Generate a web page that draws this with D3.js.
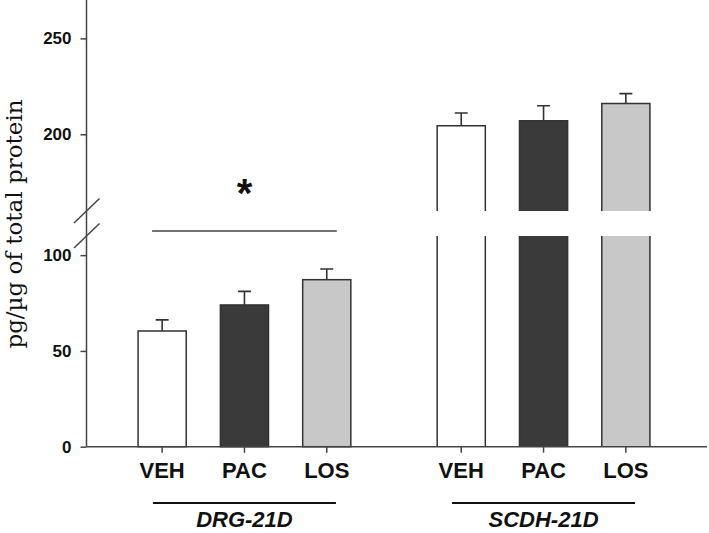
<!DOCTYPE html>
<html>
<head>
<meta charset="utf-8">
<script src="https://cdn.jsdelivr.net/npm/d3@7"></script>
<style>
  html, body { margin: 0; padding: 0; background: #fff; }
  svg { display: block; }
</style>
</head>
<body>
<svg id="chart" width="709" height="533"></svg>
<script>
// ---- data ----
const groups = ["DRG-21D", "SCDH-21D"];
const conditions = ["VEH", "PAC", "LOS"];
const drgValues = [60.4, 74.0, 87.2];
const drgErrors = [5.8, 7.1, 5.6];
const scdhValues = [204.5, 207.1, 216.0];
const scdhErrors = [6.6, 7.8, 5.2];
const lowTicks = [0, 50, 100];
const highTicks = [200, 250];
const barColors = ["#ffffff", "#3a3a3a", "#c8c8c8"];

const data = [];
conditions.forEach((c, i) => data.push({group: groups[0], cond: c, value: drgValues[i], err: drgErrors[i], color: barColors[i]}));
conditions.forEach((c, i) => data.push({group: groups[1], cond: c, value: scdhValues[i], err: scdhErrors[i], color: barColors[i]}));

const svg = d3.select("#chart");
const axisColor = "#444";
const strokeColor = "#333";

// ---- scales (broken y axis) ----
const lowMax = 110, highMin = 160, highMax = 270;
const yBase = 446.7;
const yLow = d3.scaleLinear().domain([0, lowMax]).range([yBase, 236]);
const yHigh = d3.scaleLinear().domain([highMin, highMax]).range([211, 0]);
const y = v => v <= lowMax ? yLow(v) : yHigh(v);

const x0 = d3.scaleBand().domain(groups).range([121, 667]).paddingInner(0.1745).paddingOuter(0);
const x1 = d3.scaleBand().domain(conditions).range([0, x0.bandwidth()]).paddingInner(0.415).paddingOuter(0.2075);

const axisX = 86.5;

// ---- bars ----
const bars = svg.append("g");
data.forEach(d => {
  const xl = x0(d.group) + x1(d.cond);
  const w = x1.bandwidth();
  const g = bars.append("g");
  if (d.value <= lowMax) {
    g.append("rect").attr("x", xl).attr("y", y(d.value)).attr("width", w).attr("height", yBase - y(d.value))
      .attr("fill", d.color).attr("stroke", strokeColor).attr("stroke-width", 1.5);
  } else {
    g.append("rect").attr("x", xl).attr("y", yLow(lowMax)).attr("width", w).attr("height", yBase - yLow(lowMax))
      .attr("fill", d.color);
    g.append("path").attr("d", `M${xl},${yLow(lowMax)}V${yBase}M${xl + w},${yLow(lowMax)}V${yBase}`)
      .attr("stroke", strokeColor).attr("stroke-width", 1.5).attr("fill", "none");
    g.append("rect").attr("x", xl).attr("y", yHigh(d.value)).attr("width", w).attr("height", yHigh(highMin) - yHigh(d.value))
      .attr("fill", d.color);
    g.append("path").attr("d", `M${xl},${yHigh(highMin)}V${yHigh(d.value)}H${xl + w}V${yHigh(highMin)}`)
      .attr("stroke", strokeColor).attr("stroke-width", 1.5).attr("fill", "none");
  }
  const cx = xl + w / 2;
  const top = y(d.value + d.err);
  g.append("path").attr("d", `M${cx},${y(d.value)}V${top}M${cx - 6.5},${top}H${cx + 6.5}`)
    .attr("stroke", strokeColor).attr("stroke-width", 1.6).attr("fill", "none");
});

// ---- y axis ----
const yAxisLow = svg.append("g").attr("transform", `translate(${axisX},0)`)
  .call(d3.axisLeft(yLow).tickValues(lowTicks).tickSize(6).tickPadding(9));
const yAxisHigh = svg.append("g").attr("transform", `translate(${axisX},0)`)
  .call(d3.axisLeft(yHigh).tickValues(highTicks).tickSize(6).tickPadding(9));
[yAxisLow, yAxisHigh].forEach(a => {
  a.select(".domain").remove();
  a.selectAll("line").attr("stroke", axisColor).attr("stroke-width", 1.5);
  a.selectAll("text").attr("font-family", "Liberation Sans, Arial, sans-serif")
    .attr("font-weight", "bold").attr("font-size", 17).attr("fill", "#111");
});
svg.append("line").attr("x1", axisX).attr("x2", axisX).attr("y1", 0).attr("y2", yBase)
  .attr("stroke", axisColor).attr("stroke-width", 1.5);

// break marks
const bm = svg.append("g").attr("stroke", axisColor).attr("stroke-width", 1.5);
bm.append("line").attr("x1", 74).attr("y1", 223).attr("x2", 99.5).attr("y2", 198.5);
bm.append("line").attr("x1", 74).attr("y1", 248).attr("x2", 99.5).attr("y2", 223.5);

// ---- x axis ----
svg.append("line").attr("x1", axisX).attr("x2", 707).attr("y1", yBase).attr("y2", yBase)
  .attr("stroke", axisColor).attr("stroke-width", 1.5);
groups.forEach(gname => {
  const ax = svg.append("g").attr("transform", `translate(${x0(gname)},${yBase})`)
    .call(d3.axisBottom(x1).tickSize(6).tickPadding(10));
  ax.select(".domain").remove();
  ax.selectAll("line").attr("stroke", axisColor).attr("stroke-width", 1.5);
  ax.selectAll("text").attr("font-family", "Liberation Sans, Arial, sans-serif")
    .attr("font-weight", "bold").attr("font-size", 22).attr("fill", "#111");

  const cx = x0(gname) + x0.bandwidth() / 2;
  svg.append("line").attr("x1", cx - 91.5).attr("x2", cx + 91.5).attr("y1", 503).attr("y2", 503)
    .attr("stroke", "#111").attr("stroke-width", 2);
  svg.append("text").attr("x", cx).attr("y", 527).attr("text-anchor", "middle")
    .attr("font-family", "Liberation Sans, Arial, sans-serif").attr("font-weight", "bold")
    .attr("font-style", "italic").attr("font-size", 22).attr("fill", "#111").text(gname);
});

// ---- significance ----
const g1 = x0(groups[0]);
const sigX1 = g1 + x1("VEH") + 14, sigX2 = g1 + x1("LOS") + x1.bandwidth() - 14;
svg.append("line").attr("x1", sigX1).attr("x2", sigX2).attr("y1", 231).attr("y2", 231)
  .attr("stroke", "#444").attr("stroke-width", 1.5);
svg.append("text").attr("x", (sigX1 + sigX2) / 2).attr("y", 207).attr("text-anchor", "middle")
  .attr("font-family", "Liberation Sans, Arial, sans-serif").attr("font-weight", "bold")
  .attr("font-size", 40).attr("fill", "#111").text("*");

// ---- y label ----
svg.append("text").attr("transform", "translate(22,224) rotate(-90)").attr("text-anchor", "middle")
  .attr("font-family", "DejaVu Serif, serif").attr("font-size", 23).attr("fill", "#111")
  .text("pg/µg of total protein");
</script>
</body>
</html>
